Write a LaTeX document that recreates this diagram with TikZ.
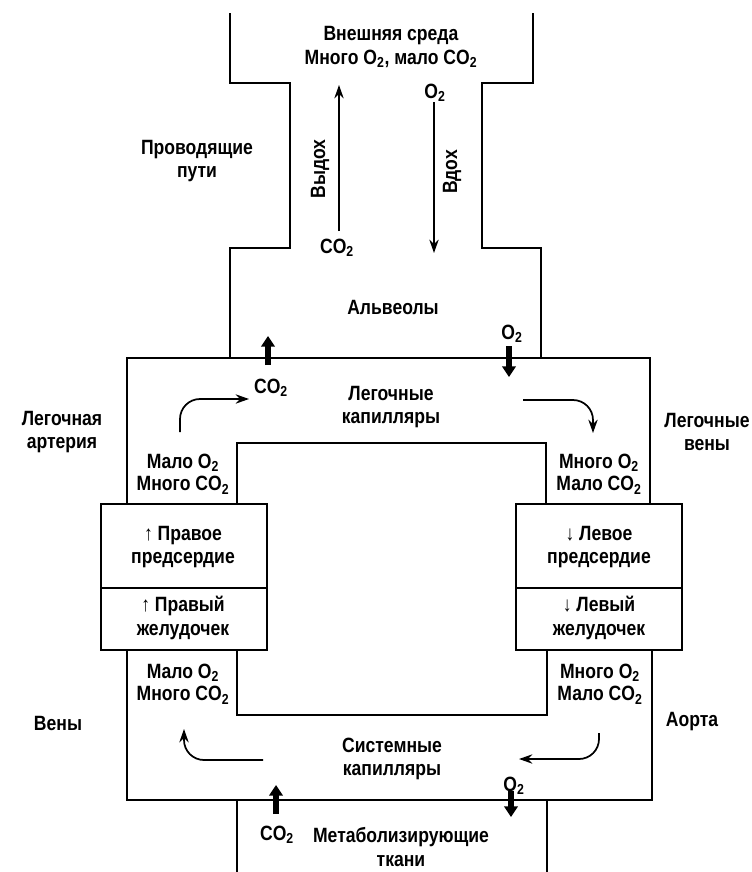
\documentclass[tikz,border=0pt]{standalone}
\usepackage{fontspec}
\setmainfont[FakeStretch=0.85]{Liberation Sans}
\usetikzlibrary{arrows.meta}

\newcommand{\Otwo}{O\textsubscript{2}}
\newcommand{\COtwo}{CO\textsubscript{2}}

\tikzset{
  wall/.style={line width=1.4pt},
  lbl/.style={font=\fontsize{15.5}{17.5}\selectfont\bfseries, align=center, inner sep=0pt},
  gaslbl/.style={lbl, font=\fontsize{15.5}{16.8}\selectfont\bfseries},
  flow/.style={line width=1.3pt, -{Stealth[length=10pt,width=7pt]}},
  gas/.style={line width=3.8pt, -{Triangle[length=8pt,width=10pt]}},
}

\begin{document}
\begin{tikzpicture}[x=0.75pt,y=-0.75pt]
\useasboundingbox (0,0) rectangle (752,872);

% Draw the airway walls
\draw[wall] (230,13) -- (230,83) -- (290,83) -- (290,248) -- (230,248) -- (230,358);
\draw[wall] (533,13) -- (533,83) -- (482,83) -- (482,248) -- (541,248) -- (541,358);

% Draw the pulmonary loop
\draw[wall] (127,504) -- (127,358) -- (650,358) -- (650,504);
\draw[wall] (237,504) -- (237,443) -- (546,443) -- (546,504);

% Draw the heart
\draw[wall] (101,504) rectangle (267,650);
\draw[wall] (101,588) -- (267,588);
\draw[wall] (516,504) rectangle (682,650);
\draw[wall] (516,588) -- (682,588);

% Draw the systemic loop
\draw[wall] (127,650) -- (127,800) -- (652,800) -- (652,650);
\draw[wall] (237,650) -- (237,715) -- (547,715) -- (547,650);
\draw[wall] (237,800) -- (237,872);
\draw[wall] (547,800) -- (547,872);

% Label the spaces
\node[lbl] (env) at (391,47) {Внешняя среда\\Много \Otwo, мало \COtwo};
\node[lbl] (duct) at (197,161) {Проводящие\\пути};
\node[lbl] (alv) at (393,307) {Альвеолы};
\node[lbl] (pcap) at (391,407) {Легочные\\капилляры};
\node[lbl] (part) at (62,432) {Легочная\\артерия};
\node[lbl] (pvein) at (707,432) {Легочные\\вены};
\node[lbl] (veins) at (58,723) {Вены};
\node[lbl] (aorta) at (692,722) {Аорта};
\node[lbl] (scap) at (392,759) {Системные\\капилляры};
\node[lbl] (tis) at (401,847) {Метаболизирующие\\ткани};

% Heart chambers
\node[lbl] (ratr) at (183,547) {↑ Правое\\предсердие};
\node[lbl] (rvent) at (183,618) {↑ Правый\\желудочек};
\node[lbl] (latr) at (599,547) {↓ Левое\\предсердие};
\node[lbl] (lvent) at (599,618) {↓ Левый\\желудочек};

% Blood content
\node[gaslbl] (ain) at (183,474) {Мало \Otwo\\Много \COtwo};
\node[gaslbl] (vin) at (599,474) {Много \Otwo\\Мало \COtwo};
\node[gaslbl] (vout) at (183,684) {Мало \Otwo\\Много \COtwo};
\node[gaslbl] (aout) at (600,684) {Много \Otwo\\Мало \COtwo};

% Breathing
\node[lbl] (exhco) at (337,248) {\COtwo};
\node[lbl, rotate=90] (exh) at (320,169) {Выдох};
\coordinate (exhtip) at (339,85);
\draw[flow] (339,231) -- (exhtip);
\node[lbl] (inho) at (435,93) {\Otwo};
\node[lbl, rotate=90] (inh) at (452,172) {Вдох};
\coordinate (inhtip) at (434,253);
\draw[flow] (inho.south -| inhtip) -- (inhtip);

% Gas exchange
\node[lbl] (lungco) at (271,388) {\COtwo};
\draw[gas] (268,365) -- (268,336);
\node[lbl] (lungo) at (512,334) {\Otwo};
\draw[gas] (509,346) -- (509,377);
\node[lbl] (tisco) at (277,835) {\COtwo};
\draw[gas] (276,814) -- (276,785);
\node[lbl] (tiso) at (514,786) {\Otwo};
\draw[gas] (511,791) -- (511,817);

% Blood flow
\draw[flow, rounded corners=15pt] (180,432) -- (180,399) -- (249,399);
\draw[flow, rounded corners=15pt] (523,400) -- (593,400) -- (593,433);
\draw[flow, rounded corners=15pt] (599,733) -- (599,759) -- (519,759);
\draw[flow, rounded corners=15pt] (263,760) -- (184,760) -- (184,729);
\end{tikzpicture}
\end{document}
